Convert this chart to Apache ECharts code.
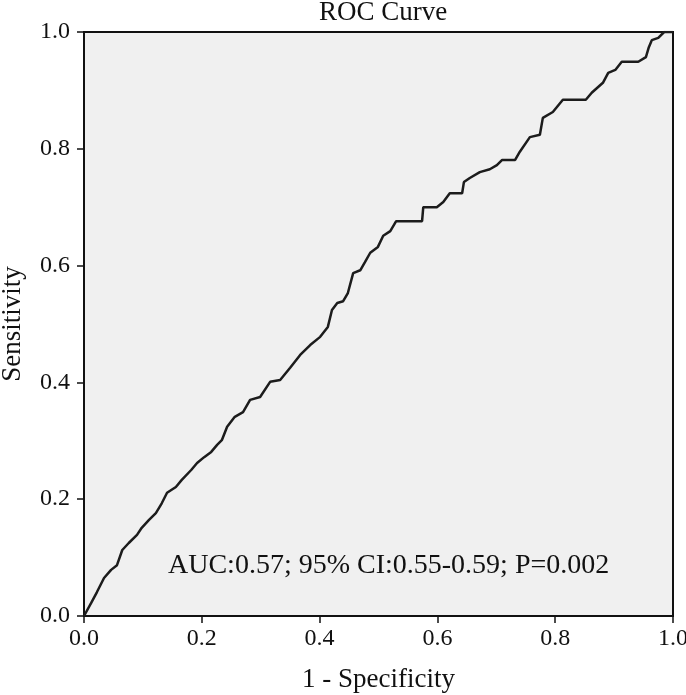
<!DOCTYPE html>
<html>
<head>
<meta charset="utf-8">
<title>ROC Curve</title>
<script src="https://cdn.jsdelivr.net/npm/echarts@6/dist/echarts.min.js"></script>
<style>
  html, body { margin: 0; padding: 0; background: #fff; }
  #chart { width: 686px; height: 695px; }
</style>
</head>
<body>
<div id="chart"></div>
<script>
// 1 - specificity (false positive rate)
const fpr = [
  0, 0.003, 0.012, 0.022, 0.034, 0.046, 0.056, 0.065, 0.076, 0.090,
  0.098, 0.110, 0.122, 0.132, 0.141, 0.156, 0.166, 0.182, 0.192, 0.204,
  0.216, 0.226, 0.234, 0.243, 0.256, 0.270, 0.282, 0.299, 0.316, 0.333,
  0.350, 0.367, 0.384, 0.401, 0.414, 0.421, 0.430, 0.440, 0.448, 0.457,
  0.469, 0.477, 0.486, 0.499, 0.508, 0.520, 0.530, 0.574, 0.576, 0.599,
  0.610, 0.621, 0.642, 0.645, 0.655, 0.672, 0.689, 0.701, 0.710, 0.732,
  0.740, 0.757, 0.774, 0.779, 0.796, 0.813, 0.852, 0.862, 0.881, 0.890,
  0.902, 0.913, 0.941, 0.954, 0.959, 0.964, 0.975, 0.985, 1.0
]
// sensitivity (true positive rate)
const tpr = [
  0, 0.002, 0.022, 0.041, 0.065, 0.079, 0.087, 0.113, 0.125, 0.139,
  0.151, 0.164, 0.176, 0.193, 0.211, 0.221, 0.233, 0.250, 0.262, 0.272,
  0.281, 0.293, 0.301, 0.324, 0.341, 0.349, 0.370, 0.375, 0.401, 0.404,
  0.425, 0.447, 0.464, 0.478, 0.495, 0.524, 0.536, 0.539, 0.553, 0.587,
  0.592, 0.606, 0.622, 0.632, 0.651, 0.659, 0.676, 0.676, 0.700, 0.700,
  0.709, 0.724, 0.724, 0.743, 0.750, 0.760, 0.765, 0.772, 0.781, 0.781,
  0.795, 0.820, 0.824, 0.853, 0.863, 0.884, 0.884, 0.896, 0.913, 0.930,
  0.935, 0.949, 0.949, 0.957, 0.974, 0.986, 0.990, 1.0, 1.0
]
const annotation = 'AUC:0.57; 95% CI:0.55-0.59; P=0.002'

const FONT = '"Liberation Serif", "DejaVu Serif", serif'

const chart = echarts.init(document.getElementById('chart'), null, { renderer: 'canvas' })

const axisCommon = {
  type: 'value',
  min: 0,
  max: 1,
  interval: 0.2,
  nameLocation: 'middle',
  nameTextStyle: { fontFamily: FONT, fontSize: 27, color: '#111' },
  axisLine: { show: true, lineStyle: { color: '#111', width: 2 } },
  axisTick: { show: true, inside: false, length: 7, lineStyle: { color: '#111', width: 1.5 } },
  axisLabel: {
    fontFamily: FONT,
    fontSize: 24,
    color: '#111',
    formatter: v => v.toFixed(1)
  },
  splitLine: { show: false }
}

chart.setOption({
  animation: false,
  backgroundColor: '#fff',
  title: {
    text: 'ROC Curve',
    left: 378,
    textAlign: 'center',
    top: -6,
    textStyle: { fontFamily: FONT, fontSize: 27, fontWeight: 'normal', color: '#111' }
  },
  grid: {
    left: 84,
    right: 13,
    top: 32,
    bottom: 79,
    outerBoundsMode: 'none',
    containLabel: false,
    show: true,
    backgroundColor: '#f0f0f0',
    borderColor: '#111',
    borderWidth: 2
  },
  xAxis: Object.assign({}, axisCommon, {
    name: '1 - Specificity',
    nameGap: 50,
    axisLabel: Object.assign({}, axisCommon.axisLabel, { margin: 11 })
  }),
  yAxis: Object.assign({}, axisCommon, {
    name: 'Sensitivity',
    nameGap: 58,
    axisLabel: Object.assign({}, axisCommon.axisLabel, { margin: 14 })
  }),
  graphic: [{
    type: 'text',
    left: 168,
    top: 552,
    style: {
      text: annotation,
      font: '28px ' + FONT,
      fill: '#111'
    }
  }],
  series: [{
    type: 'line',
    data: fpr.map((x, i) => [x, tpr[i]]),
    showSymbol: false,
    symbol: 'none',
    lineStyle: { color: '#1c1c1c', width: 2.5 },
    z: 3
  }]
})
</script>
</body>
</html>
